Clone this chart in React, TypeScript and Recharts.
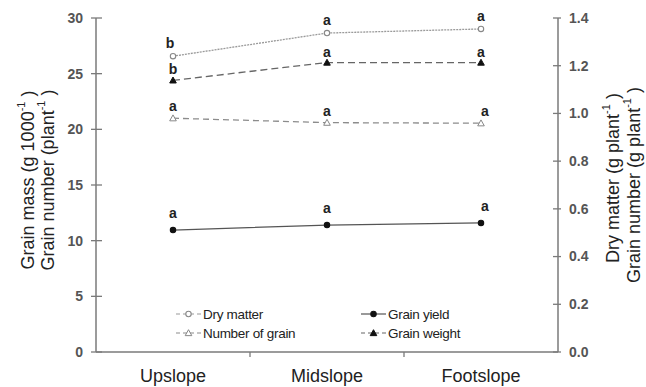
import React from "react";
import { LineChart, Line, XAxis, YAxis, Legend, LabelList } from "recharts";

// values
const SLOPES = ["Upslope", "Midslope", "Footslope"];
const DRY_MATTER = [1.24, 1.337, 1.354]; // g plant-1 (right axis)
const GRAIN_YIELD = [0.511, 0.532, 0.541]; // g plant-1 (right axis)
const GRAIN_NUMBER = [21.0, 20.6, 20.55]; // plant-1 (left axis)
const GRAIN_WEIGHT = [24.4, 26.0, 26.0]; // g 1000-1 (left axis)

const DRY_LETTERS = ["b", "a", "a"];
const YIELD_LETTERS = ["a", "a", "a"];
const NUMBER_LETTERS = ["a", "a", "a"];
const WEIGHT_LETTERS = ["b", "a", "a"];

const LEFT_TICKS = [0, 5, 10, 15, 20, 25, 30];
const RIGHT_TICKS = [0, 0.2, 0.4, 0.6, 0.8, 1.0, 1.2, 1.4];
const X_TICKS = [0.5, 1, 1.5, 2, 2.5];

const FONT = "'Liberation Sans', Arial, sans-serif";
const AXIS = "#7a7a7a";

const data = SLOPES.map((slope, i) => ({
  slope,
  pos: i + 0.5,
  dry: DRY_MATTER[i],
  yield: GRAIN_YIELD[i],
  number: GRAIN_NUMBER[i],
  weight: GRAIN_WEIGHT[i],
  dryL: DRY_LETTERS[i],
  yieldL: YIELD_LETTERS[i],
  numberL: NUMBER_LETTERS[i],
  weightL: WEIGHT_LETTERS[i],
}));

function Triangle({ cx, cy, fill, stroke, size = 3.3 }: any) {
  if (cx == null || cy == null) return null;
  return (
    <polygon
      points={`${cx},${cy - size} ${cx - size},${cy + size * 0.8} ${cx + size},${cy + size * 0.8}`}
      fill={fill}
      stroke={stroke}
      strokeWidth={1}
    />
  );
}

function Circle({ cx, cy, fill, stroke, r = 2.7 }: any) {
  if (cx == null || cy == null) return null;
  return <circle cx={cx} cy={cy} r={r} fill={fill} stroke={stroke} strokeWidth={1.1} />;
}

const SERIES = [
  { key: "dry", name: "Dry matter", axis: "right", color: "#9a9a9a", dash: "2 1", shape: "circle", fill: "#fff", markColor: "#888", lift: 8 },
  { key: "yield", name: "Grain yield", axis: "right", color: "#555", dash: undefined, shape: "circle", fill: "#111", markColor: "#111", lift: 12 },
  { key: "number", name: "Number of grain", axis: "left", color: "#8c8c8c", dash: "6 4", shape: "triangle", fill: "#fff", markColor: "#888", lift: 7 },
  { key: "weight", name: "Grain weight", axis: "left", color: "#666", dash: "7 4", shape: "triangle", fill: "#111", markColor: "#111", lift: 6 },
];

function Marker({ s, cx, cy }: any) {
  return s.shape === "circle" ? (
    <Circle cx={cx} cy={cy} fill={s.fill} stroke={s.markColor} />
  ) : (
    <Triangle cx={cx} cy={cy} fill={s.fill} stroke={s.markColor} />
  );
}

function LeftTick({ x, y, payload }: any) {
  return (
    <g>
      <line x1={x - 5} x2={x + 6} y1={y} y2={y} stroke={AXIS} strokeWidth={1.3} />
      <text x={x - 13} y={y} dy="0.35em" textAnchor="end" fontSize={14} fontWeight={700} fill="#555" fontFamily={FONT}>
        {payload.value}
      </text>
    </g>
  );
}

function RightTick({ x, y, payload }: any) {
  return (
    <g>
      <line x1={x - 5} x2={x + 3} y1={y} y2={y} stroke={AXIS} strokeWidth={1.3} />
      <text x={x + 11} y={y} dy="0.35em" textAnchor="start" fontSize={14} fontWeight={700} fill="#555" fontFamily={FONT}>
        {payload.value.toFixed(1)}
      </text>
    </g>
  );
}

function BottomTick({ x, y, payload }: any) {
  const v = payload.value;
  if (Number.isInteger(v)) {
    return <line x1={x} x2={x} y1={y} y2={y + 5} stroke={AXIS} strokeWidth={1.3} />;
  }
  return (
    <text x={x} y={y + 30} textAnchor="middle" fontSize={18} fill="#222" fontFamily={FONT}>
      {SLOPES[Math.floor(v)]}
    </text>
  );
}

function AxisTitle({ cx, cy, lines }: { cx: number[]; cy: number[]; lines: React.ReactNode[] }) {
  return (
    <g fontFamily={FONT} fontSize={18} fill="#222">
      {lines.map((l, i) => (
        <text key={i} x={cx[i]} y={cy[i]} textAnchor="middle" dominantBaseline="central" transform={`rotate(-90, ${cx[i]}, ${cy[i]})`}>
          {l}
        </text>
      ))}
    </g>
  );
}

const sup = (
  <>
    <tspan dy={-7} fontSize={11}>-1</tspan>
    <tspan dy={7}> )</tspan>
  </>
);

function LegendBox() {
  const place: Record<string, { left: number; top: number }> = {
    dry: { left: 176, top: 4 },
    yield: { left: 361, top: 4 },
    number: { left: 176, top: 23 },
    weight: { left: 361, top: 23 },
  };
  return (
    <div style={{ position: "relative", width: 646, height: 42, fontFamily: FONT }}>
      {SERIES.map((s) => (
        <div
          key={s.key}
          style={{ position: "absolute", left: place[s.key].left, top: place[s.key].top, display: "flex", alignItems: "center", height: 16 }}
        >
          <svg width={25} height={12}>
            <line x1={0} x2={25} y1={6} y2={6} stroke={s.color} strokeWidth={1.2} strokeDasharray={s.dash ? "4 3" : undefined} />
            <Marker s={s} cx={12.5} cy={6} />
          </svg>
          <span style={{ fontSize: 13.5, letterSpacing: -0.3, color: "#222", marginLeft: 2 }}>{s.name}</span>
        </div>
      ))}
    </div>
  );
}

export default function App() {
  return (
    <div style={{ position: "absolute", left: 0, top: 0, background: "#fff" }}>
      <LineChart width={646} height={387} data={data} margin={{ top: 18, right: 0, bottom: 0, left: 0 }}>
        <XAxis
          dataKey="pos"
          type="number"
          domain={[0, 3]}
          ticks={X_TICKS}
          interval={0}
          height={35}
          tickLine={false}
          tickSize={0}
          tickMargin={0}
          axisLine={{ stroke: AXIS, strokeWidth: 1.5 }}
          tick={<BottomTick />}
        />
        <YAxis
          yAxisId="left"
          orientation="left"
          width={96}
          domain={[0, 30]}
          ticks={LEFT_TICKS}
          interval={0}
          tickLine={false}
          tickSize={0}
          tickMargin={0}
          axisLine={{ stroke: AXIS, strokeWidth: 1.5 }}
          tick={<LeftTick />}
          label={{
            content: () => (
              <AxisTitle
                cx={[28, 48]}
                cy={[180, 180]}
                lines={[
                  <>Grain mass (g  1000{sup}</>,
                  <>Grain number (plant{sup}</>,
                ]}
              />
            ),
          }}
        />
        <YAxis
          yAxisId="right"
          orientation="right"
          width={88}
          domain={[0, 1.4]}
          ticks={RIGHT_TICKS}
          interval={0}
          tickLine={false}
          tickSize={0}
          tickMargin={0}
          axisLine={{ stroke: AXIS, strokeWidth: 1.5 }}
          tick={<RightTick />}
          label={{
            content: () => (
              <AxisTitle
                cx={[613, 634]}
                cy={[178, 185]}
                lines={[
                  <>Dry matter (g plant{sup}</>,
                  <>Grain number (g plant{sup}</>,
                ]}
              />
            ),
          }}
        />
        {SERIES.map((s) => (
          <Line
            key={s.key}
            yAxisId={s.axis}
            dataKey={s.key}
            name={s.name}
            stroke={s.color}
            strokeWidth={1.3}
            strokeDasharray={s.dash}
            isAnimationActive={false}
            dot={(p: any) => <Marker key={`${s.key}-${p.index}`} s={s} cx={p.cx} cy={p.cy} />}
            activeDot={false}
          >
            <LabelList
              dataKey={`${s.key}L`}
              content={(p: any) => (
                <text
                  x={p.x + (p.index === 2 && s.key !== "dry" && s.key !== "weight" ? 4 : 0) - (p.index === 0 && s.key === "dry" ? 3 : 0)}
                  y={p.y - s.lift}
                  textAnchor="middle"
                  fontSize={14}
                  fontWeight={700}
                  fill="#222"
                  fontFamily={FONT}
                >
                  {p.value}
                </text>
              )}
            />
          </Line>
        ))}
        <Legend
          verticalAlign="middle"
          align="center"
          layout="horizontal"
          wrapperStyle={{ left: 0, top: 302, width: 646, height: 42 }}
          content={() => <LegendBox />}
        />
      </LineChart>
    </div>
  );
}
